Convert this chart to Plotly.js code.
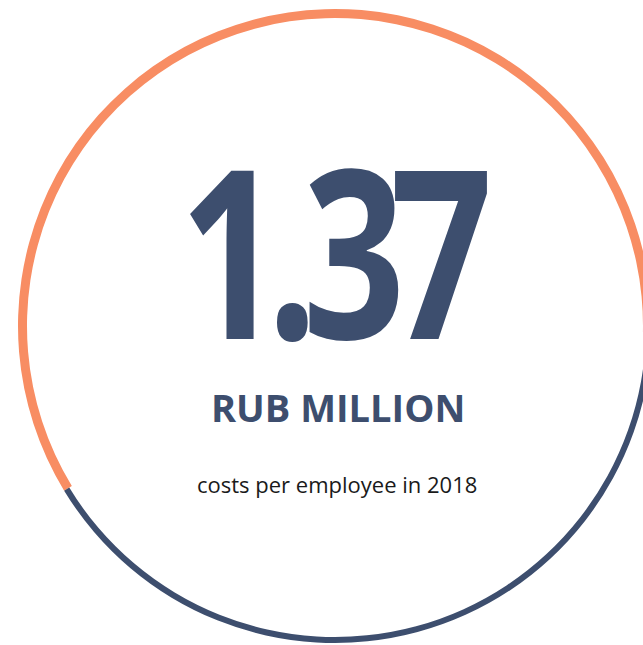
<!DOCTYPE html>
<html>
<head>
<meta charset="utf-8">
<script src="https://cdn.plot.ly/plotly-3.0.1.min.js"></script>
<style>
  html, body { margin: 0; padding: 0; overflow: hidden; background: #ffffff; }
  #chart { width: 670px; height: 660px; }
  .annotation[data-index="0"] .annotation-text {
    letter-spacing: -20px;
    transform-box: fill-box;
    transform-origin: center;
    transform: scaleX(0.76);
  }
</style>
</head>
<body>
<div id="chart"></div>
<script>
// Data
const segments = ["Share highlighted", "Remainder"];
const shares = [59, 41];
const headlineValue = "1.37";
const unitLabel = "RUB MILLION";
const caption = "costs per employee in 2018";

const ORANGE = "#f88d63";
const BLUE = "#3d4e6e";
const CLEAR = "rgba(0,0,0,0)";

const W = 670, H = 660;
const cy = 326, R = 317;
const yMid = (H - cy) / H;
const yHalf = R / H;
const dom = { x: [0, 1], y: [yMid - yHalf, yMid + yHalf] };

const common = {
  type: "pie",
  labels: segments,
  values: shares,
  sort: false,
  direction: "clockwise",
  rotation: 238.7,
  textinfo: "none",
  hoverinfo: "skip",
  showlegend: false,
  domain: dom
};

const traces = [
  Object.assign({}, common, {
    hole: 1 - 9 / R,
    marker: { colors: [ORANGE, CLEAR], line: { width: 0 } }
  }),
  Object.assign({}, common, {
    hole: 1 - 6 / R,
    marker: { colors: [CLEAR, BLUE], line: { width: 0 } }
  })
];

function py(px) { return (H - px) / H; }
function pxX(px) { return px / W; }

const layout = {
  width: W, height: H,
  margin: { l: 0, r: 0, t: 0, b: 0 },
  paper_bgcolor: "#ffffff",
  plot_bgcolor: "#ffffff",
  annotations: [
    {
      text: headlineValue, xref: "paper", yref: "paper",
      x: pxX(327), y: py(247), xanchor: "center", yanchor: "middle",
      height: 210, valign: "middle",
      showarrow: false,
      font: { family: "Open Sans", size: 236, color: BLUE, weight: 700 }
    },
    {
      text: unitLabel, xref: "paper", yref: "paper",
      x: pxX(338), y: py(407), xanchor: "center", yanchor: "middle",
      showarrow: false,
      font: { family: "Open Sans", size: 38, color: BLUE, weight: 700 }
    },
    {
      text: caption, xref: "paper", yref: "paper",
      x: pxX(337), y: py(484), xanchor: "center", yanchor: "middle",
      showarrow: false,
      font: { family: "Open Sans", size: 22, color: "#1a1a1a" }
    }
  ]
};

Plotly.newPlot("chart", traces, layout, { staticPlot: true, displayModeBar: false });
</script>
</body>
</html>
